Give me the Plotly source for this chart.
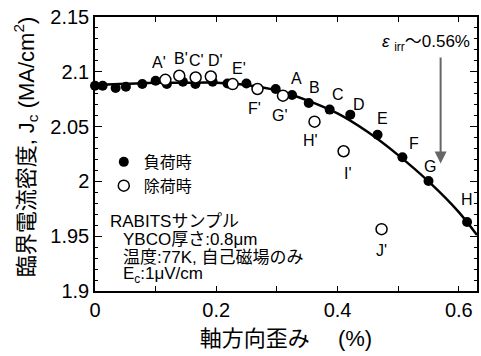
import plotly.graph_objects as go

# ---- data ----
load_strain = [0.0, 0.0126, 0.034, 0.051, 0.078, 0.100, 0.1185, 0.145, 0.1656, 0.194, 0.2185,
               0.2497, 0.298, 0.325, 0.3525, 0.387, 0.421, 0.466, 0.507, 0.550, 0.6136]
load_jc = [2.0873, 2.0873, 2.0852, 2.0864, 2.0888, 2.0918, 2.0888, 2.0909, 2.0888, 2.0909, 2.0894,
           2.0894, 2.0843, 2.0788, 2.0715, 2.0655, 2.0609, 2.0425, 2.0221, 2.0003, 1.963]
load_labels = ["", "", "", "", "", "", "", "", "", "", "", "", "", "A", "B", "C", "D", "E", "F", "G", "H"]

unload_strain = [0.116, 0.139, 0.166, 0.191, 0.227, 0.268, 0.310, 0.362, 0.410, 0.4726]
unload_jc = [2.0927, 2.0964, 2.0948, 2.0957, 2.0888, 2.0843, 2.0782, 2.0545, 2.0275, 1.9564]
unload_labels = ["A'", "B'", "C'", "D'", "E'", "F'", "G'", "H'", "I'", "J'"]

fit_strain = [0.0, 0.05, 0.10, 0.15, 0.20, 0.25, 0.30, 0.35, 0.40, 0.45, 0.50, 0.55, 0.60, 0.63]
fit_jc = [2.088, 2.089, 2.090, 2.090, 2.090, 2.088, 2.083, 2.074, 2.062, 2.045, 2.024, 2.000, 1.972, 1.951]

eps_irr = 0.57
arrow_tip_jc = 2.0164
arrow_tail_jc = 2.1145

y_tickvals = [1.9, 1.95, 2.0, 2.05, 2.1, 2.15]
y_ticktext = ["1.9", "1.95", "2", "2.05", "2.1", "2.15"]
x_tickvals = [0, 0.2, 0.4, 0.6]
x_ticktext = ["0", "0.2", "0.4", "0.6"]

# label offsets in pixels (dx, dy screen)
load_label_offsets = {"A": (4, -17), "B": (6, -16), "C": (8, -15), "D": (9, -10),
                      "E": (5, -16), "F": (12, -14), "G": (2, -15), "H": (0, -22)}
unload_label_offsets = {"A'": (-6, -17), "B'": (2, -17), "C'": (1, -17), "D'": (5, -16),
                        "E'": (6, -16), "F'": (-3, 19), "G'": (-3, 20), "H'": (-4, 19),
                        "I'": (4, 22), "J'": (0, 21)}

FONT = "Liberation Sans, Arial, Noto Sans CJK JP, sans-serif"

fig = go.Figure()
fig.add_trace(go.Scatter(x=fit_strain, y=fit_jc, mode="lines", line=dict(color="black", width=2.5, shape="spline"),
                         showlegend=False, hoverinfo="skip"))
fig.add_trace(go.Scatter(x=load_strain, y=load_jc, mode="markers", name="負荷時",
                         marker=dict(symbol="circle", size=10, color="black"), cliponaxis=False))
fig.add_trace(go.Scatter(x=unload_strain, y=unload_jc, mode="markers", name="除荷時",
                         marker=dict(symbol="circle", size=11, color="white", line=dict(color="black", width=1.5)),
                         cliponaxis=False))

anns = []
for xs, ys, labs, offs in [(load_strain, load_jc, load_labels, load_label_offsets),
                           (unload_strain, unload_jc, unload_labels, unload_label_offsets)]:
    for x, y, lab in zip(xs, ys, labs):
        if not lab:
            continue
        dx, dy = offs[lab]
        anns.append(dict(x=x, y=y, xref="x", yref="y", text=lab, showarrow=False,
                         xshift=dx, yshift=-dy, font=dict(size=16, color="black", family=FONT)))

L, T, PW, PH = 95, 17, 384, 274

# arrow for epsilon_irr
anns.append(dict(x=eps_irr, y=arrow_tip_jc, ax=eps_irr, ay=arrow_tail_jc, axref="x", ayref="y",
                 xref="x", yref="y", text="", showarrow=True, arrowhead=2, arrowsize=1.2,
                 arrowwidth=2, arrowcolor="#666666"))
anns.append(dict(x=(474 - L) / PW, y=1 - (43 - T) / PH, xref="paper", yref="paper", xanchor="right", yanchor="middle",
                 text="<i>ε</i> <sub>irr</sub>～0.56%", showarrow=False,
                 font=dict(size=17, color="black", family=FONT)))

info_lines = [("RABITSサンプル", 108, 221),
              ("YBCO厚さ:0.8μm", 121, 239),
              ("温度:77K, 自己磁場のみ", 121, 257),
              ("E<sub>c</sub>:1μV/cm", 121, 275)]
for txt, px, py in info_lines:
    anns.append(dict(x=(px - L) / PW, y=1 - (py - T) / PH, xref="paper", yref="paper",
                     xanchor="left", yanchor="middle", text=txt, showarrow=False,
                     font=dict(size=17, color="black", family=FONT)))

# y-axis title
anns.append(dict(x=(25 - L) / PW, y=1 - (147 - T) / PH, xref="paper", yref="paper",
                 xanchor="center", yanchor="middle", textangle=-90, showarrow=False,
                 text="臨界電流密度, J<sub>c</sub> (MA/cm<sup>2</sup>)",
                 font=dict(size=22, color="black", family=FONT)))

fig.update_layout(
    width=481, height=356,
    margin=dict(l=L, r=481 - L - PW, t=T, b=356 - T - PH),
    paper_bgcolor="white", plot_bgcolor="white",
    font=dict(family=FONT, color="black", size=17),
    annotations=anns,
    legend=dict(x=0.023, y=0.533, xanchor="left", yanchor="top", bgcolor="rgba(0,0,0,0)",
                font=dict(size=16, family=FONT), itemwidth=30, tracegroupgap=0),
)
fig.update_xaxes(range=[0, 0.63], tickvals=x_tickvals, ticktext=x_ticktext,
                 ticks="inside", ticklen=5, tickwidth=1.2, tickcolor="black",
                 minor=dict(dtick=0.1, ticks="inside", ticklen=5, tickwidth=1.2, tickcolor="black"),
                 showline=True, linecolor="black", linewidth=1.5, mirror="ticks",
                 showgrid=False, zeroline=False, tickfont=dict(size=20, family=FONT),
                 title=dict(text="軸方向歪み　 (%)", font=dict(size=22, family=FONT), standoff=11))
fig.update_yaxes(range=[1.9, 2.15], tickvals=y_tickvals, ticktext=y_ticktext,
                 ticks="inside", ticklen=7, tickwidth=1.2, tickcolor="black",
                 minor=dict(dtick=0.01, ticks="inside", ticklen=3.5, tickwidth=1.2, tickcolor="black"),
                 showline=True, linecolor="black", linewidth=1.5, mirror="ticks",
                 showgrid=False, zeroline=False, tickfont=dict(size=20, family=FONT))

fig.write_html("out.html", config={"displayModeBar": False},
               post_script="document.body.style.margin='0';")
